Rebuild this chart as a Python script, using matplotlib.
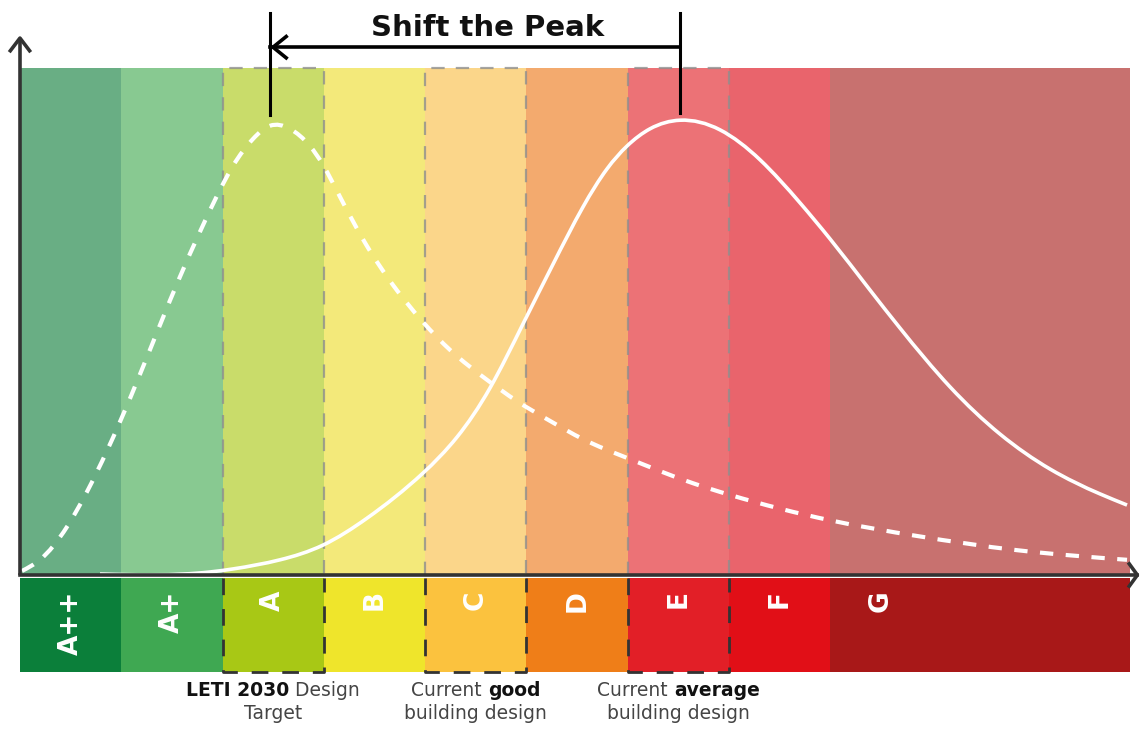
import numpy as np
import matplotlib
matplotlib.use("Agg")
import matplotlib.pyplot as plt
from matplotlib.path import Path
from matplotlib.patches import PathPatch

# ---------------- data ----------------
bands = ["A++", "A+", "A", "B", "C", "D", "E", "F", "G"]
band_edges = [0, 1, 2, 3, 4, 5, 6, 7, 8, 10.96]
upper_colors = ["#69ae84", "#88c991", "#c9dc6a", "#f3e97a", "#fbd68a",
                "#f3aa6e", "#ec7276", "#e9646c", "#c8716f"]
lower_colors = ["#0b7f3a", "#3fa852", "#a8c815", "#efe52b", "#fbc23e",
                "#ef7e18", "#e21f27", "#e10f17", "#a81818"]
highlight = ["A", "C", "E"]

# dashed curve: LETI 2030 target distribution (band units, share of panel height)
target_x = [0.020, 0.197, 0.464, 0.661, 0.859, 0.987, 1.185, 1.382, 1.579,
            1.777, 1.945, 2.103, 2.300, 2.468, 2.665, 2.863, 2.991, 3.159,
            3.425, 3.682, 3.978, 4.245, 4.610, 4.906, 5.232, 5.558, 5.992,
            6.318, 6.644, 7.009, 7.996, 8.855, 9.842, 10.928]
target_y = [0.008, 0.030, 0.095, 0.164, 0.245, 0.302, 0.396, 0.493, 0.588,
            0.677, 0.748, 0.807, 0.860, 0.886, 0.880, 0.846, 0.809, 0.746,
            0.649, 0.572, 0.499, 0.444, 0.385, 0.343, 0.304, 0.268, 0.231,
            0.205, 0.181, 0.158, 0.108, 0.077, 0.049, 0.030]

# solid curve: current building stock distribution
current_x = [0.790, 1.876, 2.103, 2.567, 2.991, 3.425, 3.978, 4.314, 4.640,
             4.965, 5.262, 5.558, 5.795, 5.992, 6.219, 6.515, 6.910, 7.305,
             7.700, 7.996, 8.391, 8.687, 9.181, 9.674, 10.168, 10.661, 10.928]
current_y = [0.002, 0.006, 0.012, 0.030, 0.059, 0.112, 0.201, 0.272, 0.369,
             0.495, 0.613, 0.726, 0.801, 0.846, 0.880, 0.897, 0.878, 0.819,
             0.734, 0.663, 0.562, 0.487, 0.371, 0.278, 0.209, 0.160, 0.138]

title = "Shift the Peak"
labels = {
    "A": [[("LETI 2030", True), (" Design", False)], [("Target", False)]],
    "C": [[("Current ", False), ("good", True)], [("building design", False)]],
    "E": [[("Current ", False), ("average", True)], [("building design", False)]],
}

# ---------------- layout ----------------
fig = plt.figure(figsize=(11.4, 7.29), dpi=100)
ax = fig.add_axes([0, 0, 1, 1])
ax.set_xlim(-0.197, 11.056)
ax.set_ylim(-0.3037, 1.1341)
ax.axis("off")

UP_TOP = 1.0
LOW_TOP, LOW_BOT = -0.006, -0.191
DARK = "#333333"


def smooth_path(xs, ys):
    """Cubic Bezier path through the read points (natural-spline tangents)."""
    x = np.asarray(xs, float)
    y = np.asarray(ys, float)
    n = len(x)
    h = np.diff(x)
    d = np.diff(y) / h
    A = np.zeros((n, n))
    b = np.zeros(n)
    A[0, 0] = A[-1, -1] = 1.0
    for k in range(1, n - 1):
        A[k, k - 1] = h[k - 1]
        A[k, k] = 2 * (h[k - 1] + h[k])
        A[k, k + 1] = h[k]
        b[k] = 6 * (d[k] - d[k - 1])
    M = np.linalg.solve(A, b)
    m = np.empty(n)
    m[:-1] = d - h * (2 * M[:-1] + M[1:]) / 6
    m[-1] = d[-1] + h[-1] * (M[-2] + 2 * M[-1]) / 6
    verts = [(x[0], y[0])]
    codes = [Path.MOVETO]
    for k in range(n - 1):
        verts += [(x[k] + h[k] / 3, y[k] + m[k] * h[k] / 3),
                  (x[k + 1] - h[k] / 3, y[k + 1] - m[k + 1] * h[k] / 3),
                  (x[k + 1], y[k + 1])]
        codes += [Path.CURVE4] * 3
    return Path(verts, codes)


for i, name in enumerate(bands):
    x0, x1 = band_edges[i], band_edges[i + 1]
    ax.fill_between([x0, x1], 0, UP_TOP, color=upper_colors[i], lw=0, zorder=1)
    ax.fill_between([x0, x1], LOW_BOT, LOW_TOP, color=lower_colors[i], lw=0, zorder=1)
    tx = (x0 + x1) / 2 if name != "G" else x0 + 0.5
    ax.text(tx, LOW_TOP - 0.024, name, rotation=90, ha="center", va="top",
            color="white", fontsize=19, fontweight="bold", family="DejaVu Sans",
            zorder=5)
    if name in highlight:
        ax.plot([x0, x0, x1, x1], [0, UP_TOP, UP_TOP, 0], color="#8f8f8f",
                lw=1.6, ls=(0, (6, 5)), alpha=0.8, zorder=2)
        ax.plot([x0, x0, x1, x1], [LOW_TOP, LOW_BOT, LOW_BOT, LOW_TOP],
                color=DARK, lw=2.0, ls=(0, (6, 5)), zorder=4)

# curves
ax.add_patch(PathPatch(smooth_path(current_x, current_y), fill=False,
                       edgecolor="white", lw=2.6, zorder=3))
ax.add_patch(PathPatch(smooth_path(target_x, target_y), fill=False,
                       edgecolor="white", lw=3.0, ls=(0, (3.2, 3.0)), zorder=3))

# axes with open arrowheads
ax.plot([0, 0], [0, 1.059], color=DARK, lw=2.6, zorder=6, solid_capstyle="butt")
ax.plot([-0.095, 0, 0.095], [1.034, 1.059, 1.034], color=DARK, lw=2.6, zorder=6)
ax.plot([0, 11.03], [0, 0], color=DARK, lw=2.6, zorder=6)
ax.plot([10.95, 11.03, 10.95], [0.022, 0, -0.022], color=DARK, lw=2.6, zorder=6)

# shift-the-peak arrow
tpk = target_x[int(np.argmax(target_y))]
cpk = current_x[int(np.argmax(current_y))]
ytop, yarr = 1.108, 1.041
ax.plot([tpk, tpk], [ytop, 0.907], color="black", lw=2.2, zorder=6)
ax.plot([cpk, cpk], [ytop, 0.911], color="black", lw=2.2, zorder=6)
ax.plot([tpk, cpk], [yarr, yarr], color="black", lw=2.6, zorder=6)
ax.plot([tpk + 0.16, tpk + 0.03, tpk + 0.16], [yarr + 0.021, yarr, yarr - 0.021],
        color="black", lw=2.6, zorder=6)
ax.text((tpk + cpk) / 2 + 0.12, 1.079, title, ha="center", va="center",
        fontsize=21, fontweight="bold", family="DejaVu Sans", color="#111111")

# labels with mixed weights
fig.canvas.draw()
renderer = fig.canvas.get_renderer()
inv = ax.transData.inverted()
line_y = [-0.227, -0.273]
for band, lines in labels.items():
    i = bands.index(band)
    cx = (band_edges[i] + band_edges[i + 1]) / 2
    for li, parts in enumerate(lines):
        texts = []
        for s, bold in parts:
            t = ax.text(0, line_y[li], s, ha="left", va="center", fontsize=13.5,
                        family="DejaVu Sans", fontweight="bold" if bold else "normal",
                        color="#111111" if bold else "#454545")
            texts.append(t)
        widths = [t.get_window_extent(renderer).width for t in texts]
        total = sum(widths)
        xd = ax.transData.transform((cx, 0))[0] - total / 2
        for t, w in zip(texts, widths):
            t.set_x(inv.transform((xd, 0))[0])
            xd += w

fig.savefig("out.png", dpi=100, facecolor="white")
